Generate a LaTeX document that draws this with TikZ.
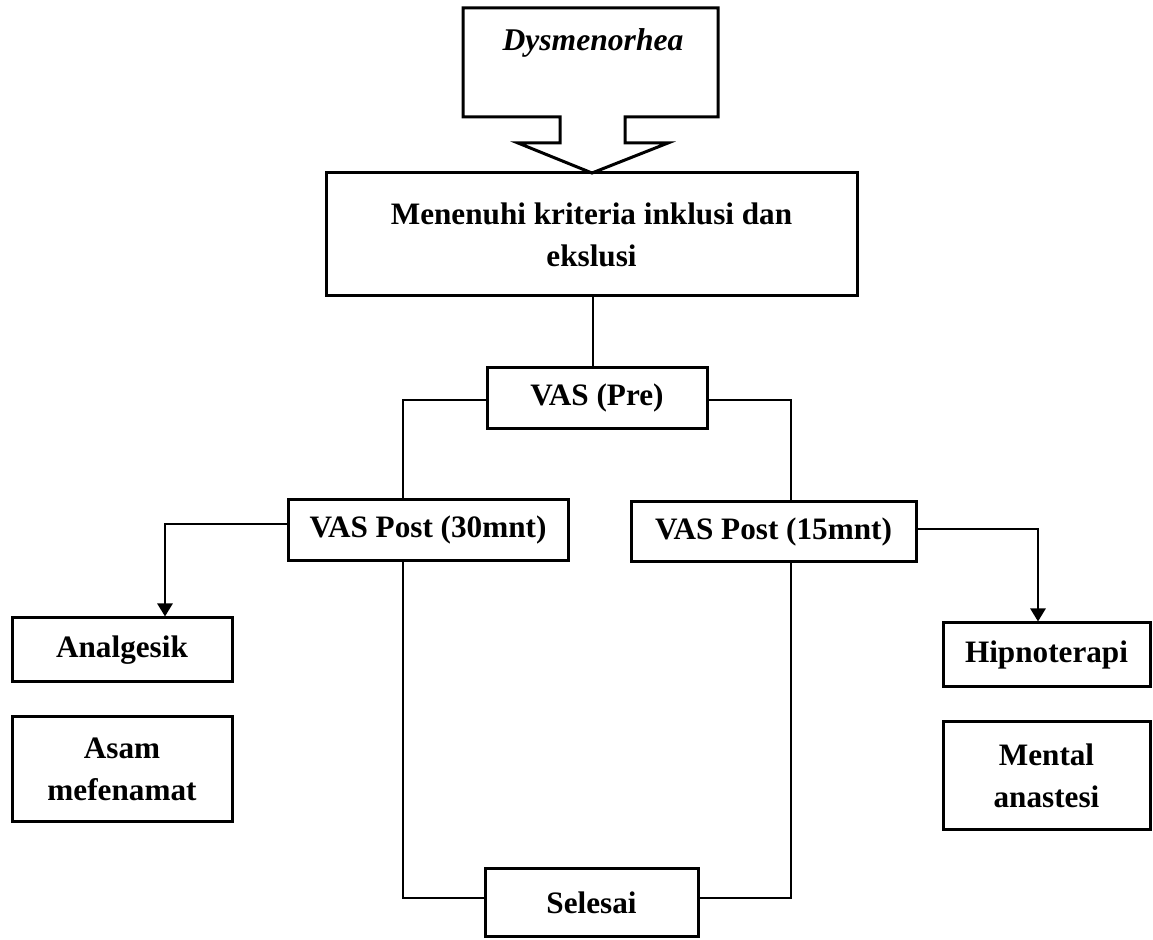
\documentclass[tikz,border=0pt]{standalone}
\usepackage{fontspec}
\setmainfont{Liberation Serif}
\usetikzlibrary{arrows.meta}
\begin{document}
\begin{tikzpicture}[x=0.5pt,y=-0.5pt,
  box/.style={draw, line width=1.5pt, rectangle, inner sep=0pt, align=center,
    font=\fontsize{15.6}{21}\selectfont\bfseries},
  conn/.style={line width=1.3pt},
  arr/.style={line width=1.3pt, -{Triangle[width=7.5pt,length=6.5pt]}}]
\useasboundingbox (0,0) rectangle (1153,940);
% callout shape
\draw[line width=1.5pt, line join=miter]
  (463,8) -- (718,8) -- (718,117) -- (625,117) -- (625,143) -- (668,143)
  -- (592,173) -- (518,143) -- (560,143) -- (560,117) -- (463,117) -- cycle;
\node[font=\fontsize{15.8}{18}\selectfont\bfseries\itshape] (dys) at (593,43) {Dysmenorhea};
% boxes
\node[box, minimum width=265.5pt, minimum height=61.5pt] (crit) at (591.5,234.5)
  {Menenuhi kriteria inklusi dan\\ekslusi};
\node[box, minimum width=110pt, minimum height=30.5pt] (pre) at (597,398.5) {VAS (Pre)};
\node[box, minimum width=140pt, minimum height=30.5pt] (p30) at (428,530.5) {VAS Post (30mnt)};
\node[box, minimum width=142.5pt, minimum height=30pt] (p15) at (773.5,532) {VAS Post (15mnt)};
\node[box, minimum width=110pt, minimum height=32pt] (anal) at (122,650) {Analgesik};
\node[box, minimum width=110pt, minimum height=52.5pt] (asam) at (122,769.5) {Asam\\mefenamat};
\node[box, minimum width=103.5pt, minimum height=32pt] (hip) at (1046.5,655) {Hipnoterapi};
\node[box, minimum width=103.5pt, minimum height=54pt] (ment) at (1046.5,776) {Mental\\anastesi};
\node[box, minimum width=106.5pt, minimum height=34pt] (sel) at (591.5,903) {Selesai};
% helper coordinates
\coordinate (L) at (403,0);
\coordinate (R) at (791,0);
\coordinate (AL) at (165,0);
\coordinate (AR) at (1038,0);
% connectors
\draw[conn] ([xshift=0.75pt]crit.south) -- ([xshift=0.75pt]crit.south |- pre.north);
\draw[conn] ([yshift=-0.75pt]pre.west) -| (L |- p30.north);
\draw[conn] ([yshift=-0.75pt]pre.east) -| (R |- p15.north);
\draw[arr] ([yshift=3.25pt]p30.west) -| (AL |- anal.north);
\draw[arr] ([yshift=1.5pt]p15.east) -| (AR |- hip.north);
\draw[conn] (L |- p30.south) |- ([yshift=2.5pt]sel.west);
\draw[conn] (R |- p15.south) |- ([yshift=2.5pt]sel.east);
\end{tikzpicture}
\end{document}
